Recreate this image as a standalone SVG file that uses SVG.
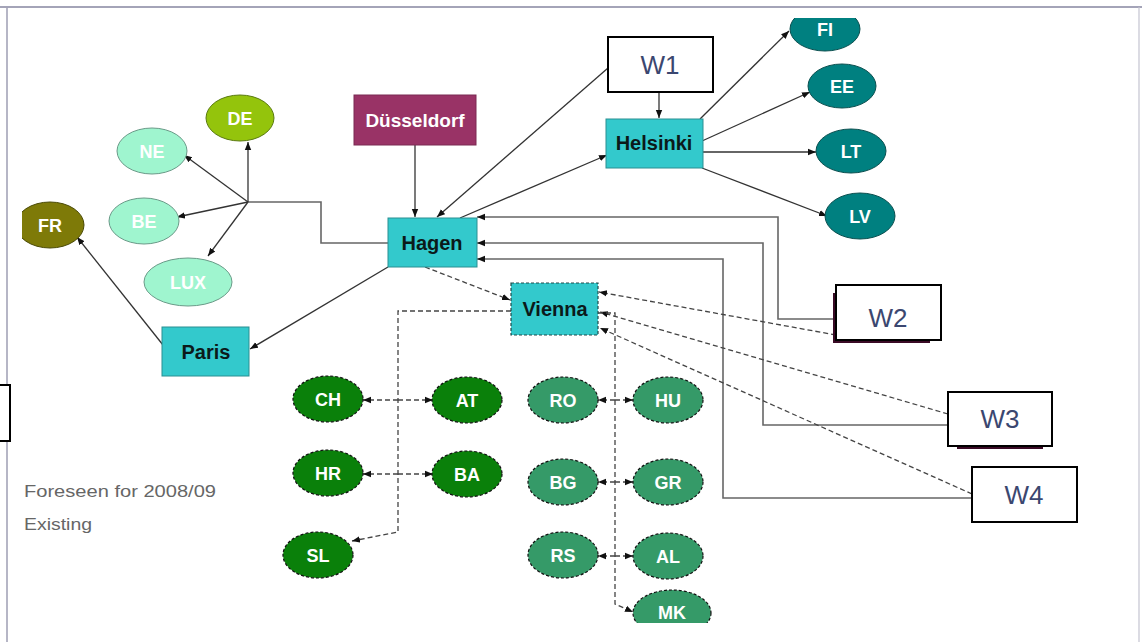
<svg xmlns="http://www.w3.org/2000/svg" width="1142" height="642" viewBox="0 0 1142 642">
<defs>
<style>
.rc{fill:#33C9CC;stroke:#2a8f92;stroke-width:1}
.rt{font-family:"Liberation Sans",Arial,sans-serif;font-weight:bold;font-size:20px;fill:#0b1a1a;text-anchor:middle}
.et{font-family:"Liberation Sans",Arial,sans-serif;font-weight:bold;font-size:18px;fill:#ffffff;text-anchor:middle}
.wb{fill:#ffffff;stroke:#000;stroke-width:2}
.wt{font-family:"Liberation Sans",Arial,sans-serif;font-size:26px;fill:#3b4770;text-anchor:middle}
.teal{fill:#008080;stroke:#0b4f4f;stroke-width:1}
.mint{fill:#9FF5CF;stroke:#6a9a88;stroke-width:1}
.dg{fill:#0A800A;stroke:#111;stroke-width:1.2;stroke-dasharray:3 2}
.mg{fill:#359A68;stroke:#111;stroke-width:1.2;stroke-dasharray:3 2}
.ln{fill:none;stroke:#333;stroke-width:1.3}
.gl{fill:none;stroke:#666;stroke-width:1.6}
.dl{fill:none;stroke:#444;stroke-width:1.3;stroke-dasharray:5 3}
.lg{font-family:"Liberation Sans",Arial,sans-serif;font-size:16px;fill:#666}
</style>
<marker id="ah" viewBox="0 0 10 10" refX="10" refY="5" markerWidth="8" markerHeight="8" markerUnits="userSpaceOnUse" orient="auto">
<path d="M0,1 L10,5 L0,9 z" fill="#111"/>
</marker>
<clipPath id="area"><rect x="22" y="18" width="1100" height="605"/></clipPath>
</defs>
<rect x="0" y="0" width="1142" height="642" fill="#ffffff"/>
<g id="frame">
<line x1="0" y1="7" x2="1142" y2="7" stroke="#a4a4b8" stroke-width="2"/>
<line x1="7" y1="7" x2="7" y2="642" stroke="#a4a4b8" stroke-width="1.6"/>
<line x1="1139" y1="7" x2="1139" y2="642" stroke="#c4c4d0" stroke-width="1.2"/>
<rect x="-10" y="385" width="20" height="56" fill="#fff" stroke="#000" stroke-width="2"/>
</g>
<g id="connectors">
<path class="ln" d="M415,145 V217" marker-end="url(#ah)"/>
<path class="ln" d="M608,68 L437,217" marker-end="url(#ah)"/>
<path class="ln" d="M659,92 V118" marker-end="url(#ah)"/>
<path class="ln" d="M460,218 L607,155" marker-end="url(#ah)"/>
<path class="ln" d="M700,119 L789,31" marker-end="url(#ah)"/>
<path class="ln" d="M702,141 L810,92" marker-end="url(#ah)"/>
<path class="ln" d="M702,152 L816,152" marker-end="url(#ah)"/>
<path class="ln" d="M702,168 L827,216" marker-end="url(#ah)"/>
<path class="gl" d="M388,243 H321 V202 H248"/>
<path class="ln" d="M248,202 V142" marker-end="url(#ah)"/>
<path class="ln" d="M248,202 L184,155" marker-end="url(#ah)"/>
<path class="ln" d="M248,202 L177,217" marker-end="url(#ah)"/>
<path class="ln" d="M248,202 L208,256" marker-end="url(#ah)"/>
<path class="ln" d="M388,267 L250,349" marker-end="url(#ah)"/>
<path class="ln" d="M163,345 L77,237" marker-end="url(#ah)"/>
<path class="gl" d="M836,319 H778 V217 H477" marker-end="url(#ah)"/>
<path class="gl" d="M948,425 H763 V243 H477" marker-end="url(#ah)"/>
<path class="gl" d="M972,498 H723 V259 H477" marker-end="url(#ah)"/>
<path class="dl" d="M836,335 L599,292" marker-end="url(#ah)"/>
<path class="dl" d="M948,414 L600,312" marker-end="url(#ah)"/>
<path class="dl" d="M972,494 L600,328" marker-end="url(#ah)"/>
<path class="dl" d="M425,267 L510,300" marker-end="url(#ah)"/>
<path class="dl" d="M511,311 H398 V532 L352,541" marker-end="url(#ah)"/>
<path class="dl" d="M398,400 H363" marker-end="url(#ah)"/>
<path class="dl" d="M398,400 H433" marker-end="url(#ah)"/>
<path class="dl" d="M398,474 H363" marker-end="url(#ah)"/>
<path class="dl" d="M398,474 H433" marker-end="url(#ah)"/>
<path class="dl" d="M598,313 H615 V604 L633,612" marker-end="url(#ah)"/>
<path class="dl" d="M615,400 H598" marker-end="url(#ah)"/>
<path class="dl" d="M615,400 H633" marker-end="url(#ah)"/>
<path class="dl" d="M615,482 H598" marker-end="url(#ah)"/>
<path class="dl" d="M615,482 H633" marker-end="url(#ah)"/>
<path class="dl" d="M615,556 H598" marker-end="url(#ah)"/>
<path class="dl" d="M615,556 H633" marker-end="url(#ah)"/>
</g>
<g id="dusseldorf"><rect x="354" y="95" width="122" height="50" fill="#993366" stroke="#7a2a52"/><text class="et" x="415" y="127" style="font-size:19px">Düsseldorf</text></g>
<g id="hagen"><rect class="rc" x="388" y="218" width="89" height="49"/><text class="rt" x="432" y="250">Hagen</text></g>
<g id="helsinki"><rect class="rc" x="606" y="119" width="97" height="49"/><text class="rt" x="654" y="150">Helsinki</text></g>
<g id="paris"><rect class="rc" x="162" y="327" width="87" height="49"/><text class="rt" x="206" y="359">Paris</text></g>
<g id="vienna"><rect x="511" y="283" width="87" height="52" fill="#33C9CC" stroke="#1e4a4a" stroke-width="1.2" stroke-dasharray="3 2"/><text class="rt" x="555" y="316">Vienna</text></g>
<g id="w1"><rect class="wb" x="608" y="37" width="105" height="55"/><text class="wt" x="660" y="74">W1</text></g>
<g id="w2"><rect x="833" y="293" width="97" height="50" fill="#3a0a25"/><rect class="wb" x="836" y="285" width="105" height="55"/><text class="wt" x="888" y="327">W2</text></g>
<g id="w3"><rect x="957" y="440" width="86" height="9" fill="#3a0a25"/><rect class="wb" x="948" y="392" width="104" height="54"/><text class="wt" x="1000" y="428">W3</text></g>
<g id="w4"><rect class="wb" x="972" y="467" width="105" height="55"/><text class="wt" x="1024" y="504">W4</text></g>
<g id="fi" clip-path="url(#area)"><ellipse class="teal" cx="825" cy="29" rx="35" ry="22"/><text class="et" x="825" y="36">FI</text></g>
<g id="ee"><ellipse class="teal" cx="842" cy="86" rx="34" ry="22"/><text class="et" x="842" y="93">EE</text></g>
<g id="lt"><ellipse class="teal" cx="851" cy="151" rx="35" ry="22"/><text class="et" x="851" y="158">LT</text></g>
<g id="lv"><ellipse class="teal" cx="860" cy="216" rx="35" ry="23"/><text class="et" x="860" y="223">LV</text></g>
<g id="de"><ellipse cx="240" cy="118" rx="34" ry="23" fill="#94C40C" stroke="#5a7a10"/><text class="et" x="240" y="125">DE</text></g>
<g id="ne"><ellipse class="mint" cx="152" cy="151" rx="35" ry="23"/><text class="et" x="152" y="158">NE</text></g>
<g id="be"><ellipse class="mint" cx="144" cy="221" rx="35" ry="23"/><text class="et" x="144" y="228">BE</text></g>
<g id="lux"><ellipse class="mint" cx="188" cy="282" rx="44" ry="24"/><text class="et" x="188" y="289">LUX</text></g>
<g id="fr" clip-path="url(#area)"><ellipse cx="50" cy="225" rx="34" ry="23" fill="#7E7A08" stroke="#4a4a05"/><text class="et" x="50" y="232">FR</text></g>
<g id="ch"><ellipse class="dg" cx="328" cy="399" rx="35" ry="23"/><text class="et" x="328" y="406">CH</text></g>
<g id="hr"><ellipse class="dg" cx="328" cy="473" rx="35" ry="23"/><text class="et" x="328" y="480">HR</text></g>
<g id="sl"><ellipse class="dg" cx="318" cy="555" rx="35" ry="23"/><text class="et" x="318" y="562">SL</text></g>
<g id="at"><ellipse class="dg" cx="467" cy="400" rx="35" ry="23"/><text class="et" x="467" y="407">AT</text></g>
<g id="ba"><ellipse class="dg" cx="467" cy="474" rx="35" ry="23"/><text class="et" x="467" y="481">BA</text></g>
<g id="ro"><ellipse class="mg" cx="563" cy="400" rx="35" ry="23"/><text class="et" x="563" y="407">RO</text></g>
<g id="hu"><ellipse class="mg" cx="668" cy="400" rx="35" ry="23"/><text class="et" x="668" y="407">HU</text></g>
<g id="bg"><ellipse class="mg" cx="563" cy="482" rx="35" ry="23"/><text class="et" x="563" y="489">BG</text></g>
<g id="gr"><ellipse class="mg" cx="668" cy="482" rx="35" ry="23"/><text class="et" x="668" y="489">GR</text></g>
<g id="rs"><ellipse class="mg" cx="563" cy="555" rx="35" ry="23"/><text class="et" x="563" y="562">RS</text></g>
<g id="al"><ellipse class="mg" cx="668" cy="556" rx="35" ry="23"/><text class="et" x="668" y="563">AL</text></g>
<g id="mk" clip-path="url(#area)"><ellipse class="mg" cx="672" cy="613" rx="39" ry="23"/><text class="et" x="672" y="619">MK</text></g>
<g id="legend">
<text class="lg" x="24" y="497" textLength="192" lengthAdjust="spacingAndGlyphs">Foreseen for 2008/09</text>
<text class="lg" x="24" y="530" textLength="68" lengthAdjust="spacingAndGlyphs">Existing</text>
</g>
</svg>
